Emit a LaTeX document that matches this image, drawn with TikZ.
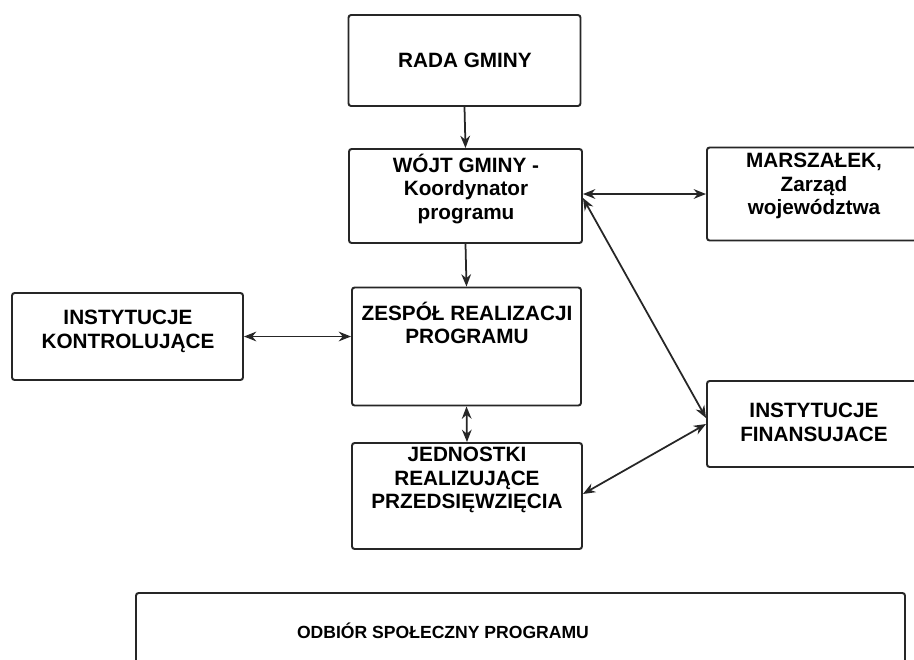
\documentclass[tikz,border=0pt]{standalone}
\usepackage{fontspec}
\setmainfont{Liberation Sans}
\usetikzlibrary{arrows.meta, positioning}

\begin{document}
\begin{tikzpicture}[x=0.02cm, y=-0.02cm, >={Stealth[length=7pt, width=5.5pt]},
    box/.style={draw=black!85, line width=1.1pt, rounded corners=1.5pt, inner sep=0pt},
    boxtext/.style={align=center, inner sep=0pt, font=\fontsize{11.8}{13.5}\selectfont\bfseries},
    link/.style={draw=black!85, line width=1pt}]

    % ==========================================
    % FRAME: picture size, right and bottom boxes run off the page
    % ==========================================
    \clip (0,0) rectangle (914,660);
    \fill[white] (0,0) rectangle (914,660);

    % ==========================================
    % CENTRE COLUMN
    % ==========================================
    \node[box, minimum width=232*0.02cm, minimum height=91*0.02cm] (rada) at (464.5, 60.5) {};
    \node[boxtext] (radatxt) at (465, 60) {RADA GMINY};

    \node[box, minimum width=233*0.02cm, minimum height=94*0.02cm] (wojt) at (465.5, 196) {};
    \node[boxtext] (wojttxt) at (466, 189) {WÓJT GMINY -\\Koordynator\\programu};

    \node[box, minimum width=229*0.02cm, minimum height=118*0.02cm] (zespol) at (466.5, 346.5) {};
    \node[boxtext] (zespoltxt) at (467, 323) {ZESPÓŁ REALIZACJI\\PROGRAMU};

    \node[box, minimum width=230*0.02cm, minimum height=106*0.02cm] (jedn) at (467, 496) {};
    \node[boxtext] (jedntxt) at (467, 480) {JEDNOSTKI\\REALIZUJĄCE\\PRZEDSIĘWZIĘCIA};

    % ==========================================
    % SIDE BOXES
    % ==========================================
    \node[box, minimum width=231*0.02cm, minimum height=87*0.02cm] (kontrol) at (127.5, 336.5) {};
    \node[boxtext] (kontroltxt) at (128, 331) {INSTYTUCJE\\KONTROLUJĄCE};

    \node[box, minimum width=223*0.02cm, minimum height=93*0.02cm] (marsz) at (818.5, 194) {};
    \node[boxtext] (marsztxt) at (814, 186) {MARSZAŁEK,\\Zarząd\\województwa};

    \node[box, minimum width=223*0.02cm, minimum height=86*0.02cm] (finans) at (818.5, 424) {};
    \node[boxtext] (finanstxt) at (814, 422) {INSTYTUCJE\\FINANSUJACE};

    % ==========================================
    % BOTTOM BAND
    % ==========================================
    \node[box, minimum width=769*0.02cm, minimum height=110*0.02cm] (odbior) at (520.5, 648) {};
    \node[inner sep=0pt, font=\fontsize{10}{12}\selectfont\bfseries] (odbiortxt) at (443, 631) {ODBIÓR SPOŁECZNY PROGRAMU};

    % ==========================================
    % CONNECTORS
    % ==========================================
    \draw[link, ->] (rada.south) -- (wojt.north);
    \draw[link, ->] (wojt.south) -- (zespol.north);
    \draw[link, <->] (zespol.south) -- (jedn.north);
    \draw[link, <->] (kontrol.east) -- (kontrol.east -| zespol.west);
    \draw[link, <->] (wojt.east |- marsz.west) -- (marsz.west);
    \draw[link, <->] ([yshift=-0.04cm]wojt.east) -- ([yshift=0.12cm]finans.west);
    \draw[link, <->] ([yshift=0.04cm]jedn.east) -- (finans.west);

\end{tikzpicture}
\end{document}
